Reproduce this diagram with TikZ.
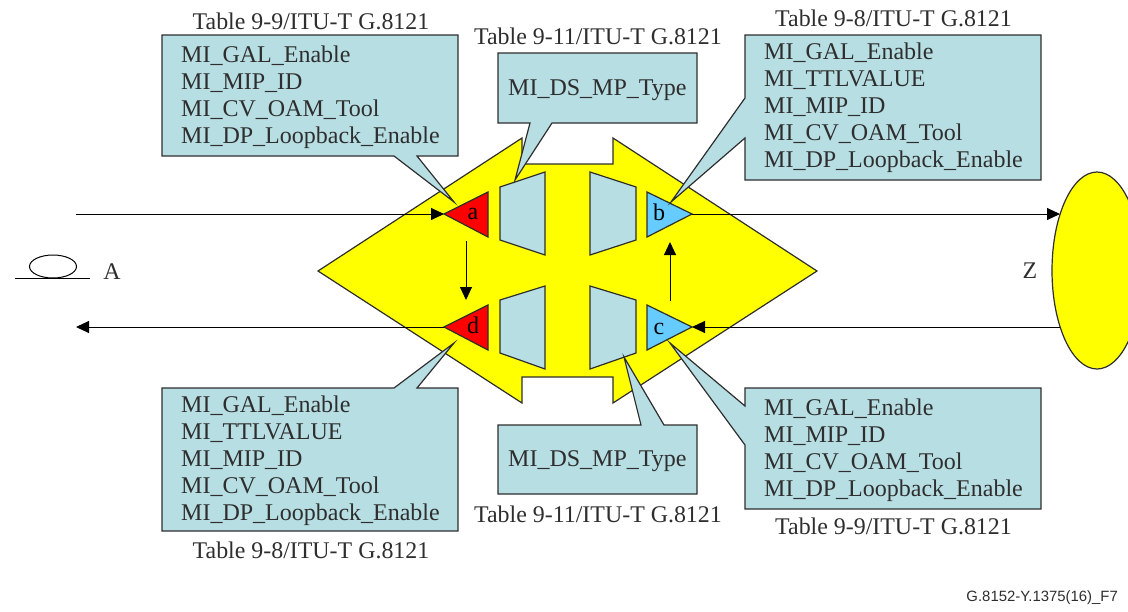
\documentclass[tikz,border=0pt]{standalone}
\usepackage{fontspec}
\setmainfont{Liberation Serif}
\newfontfamily\footfont{Liberation Sans}
\usetikzlibrary{arrows.meta,shapes.geometric}
\definecolor{boxfill}{RGB}{183,222,227}
\definecolor{skyb}{RGB}{102,204,255}
\definecolor{inkc}{RGB}{46,46,46}
\definecolor{hubyellow}{RGB}{255,255,0}
\definecolor{portred}{RGB}{255,0,0}
\tikzset{
  shapeline/.style={draw=inkc,line width=1.2pt,line join=miter},
  boxshape/.style={shapeline,fill=boxfill},
  boxtext/.style={anchor=west,align=left,inner sep=0pt,text=inkc,font=\fontsize{24}{27}\selectfont},
  tablelabel/.style={inner sep=0pt,text=inkc,font=\fontsize{23.9}{27}\selectfont},
  tritext/.style={inner sep=0pt,text=black,font=\fontsize{24}{27}\selectfont},
  flow/.style={draw=black,line width=1pt,-{Triangle[length=13pt,width=12pt]}},
  flowplain/.style={draw=black,line width=1pt},
}
\begin{document}
\begin{tikzpicture}[x=1pt,y=-1pt]
\useasboundingbox (0,0) rectangle (1128,611);
\clip (0,0) rectangle (1128,611);
% hub
\draw[shapeline,fill=hubyellow] (318,271) -- (522,138) -- (522,164) -- (613,164) -- (613,138) -- (817,271)
  -- (613,403) -- (613,377) -- (522,377) -- (522,403) -- cycle;
% far end
\node[shapeline,fill=hubyellow,ellipse,minimum width=90pt,minimum height=197pt,inner sep=0pt] (zend) at (1097,270.5) {};
% ports
\draw[shapeline,fill=portred] (444,214) coordinate (atip) -- (488,192) -- (488,237) -- cycle;
\draw[shapeline,fill=portred] (444,327) coordinate (dtip) -- (488,305) -- (488,350) -- cycle;
\draw[shapeline,fill=skyb] (692,214) coordinate (btip) -- (647,192) -- (647,237) -- cycle;
\draw[shapeline,fill=skyb] (692,327) coordinate (ctip) -- (647,305) -- (647,350) -- cycle;
\node[tritext] (alabel) at (473,214) {a};
\node[tritext] (dlabel) at (473,325) {d};
\node[tritext] (blabel) at (659,212) {b};
\node[tritext] (clabel) at (659,329) {c};
% trapezoids
\draw[boxshape] (500,187) -- (545,172) -- (545,255) -- (500,240) -- cycle;
\draw[boxshape] (590,172) -- (636,187) -- (636,240) -- (590,255) -- cycle;
\draw[boxshape] (500,300) -- (545,286) -- (545,369) -- (500,353) -- cycle;
\draw[boxshape] (590,286) -- (636,300) -- (636,353) -- (590,369) -- cycle;
% callouts
\draw[boxshape] (162,35) -- (458,35) -- (458,156) -- (417,156) -- (454,202) -- (394,156) -- (162,156) -- cycle;
\draw[boxshape] (498,53) -- (697,53) -- (697,123) -- (552,123) -- (515,180) -- (530,123) -- (498,123) -- cycle;
\draw[boxshape] (745,35) -- (1041,35) -- (1041,180) -- (745,180) -- (745,138) -- (671,202) -- (745,98) -- cycle;
\draw[boxshape] (162,388) -- (394,388) -- (454,343) -- (417,388) -- (458,388) -- (458,531) -- (162,531) -- cycle;
\draw[boxshape] (498,425) -- (641,425) -- (624,357) -- (664,425) -- (697,425) -- (697,494) -- (498,494) -- cycle;
\draw[boxshape] (745,388) -- (745,406) -- (670,343) -- (745,445) -- (745,509) -- (1041,509) -- (1041,388) -- cycle;
% box texts
\node[boxtext] (tl) at (181,97) {MI\_GAL\_Enable\\MI\_MIP\_ID\\MI\_CV\_OAM\_Tool\\MI\_DP\_Loopback\_Enable};
\node[boxtext] (tm) at (508,90) {MI\_DS\_MP\_Type};
\node[boxtext] (tr) at (764,108) {MI\_GAL\_Enable\\MI\_TTLVALUE\\MI\_MIP\_ID\\MI\_CV\_OAM\_Tool\\MI\_DP\_Loopback\_Enable};
\node[boxtext] (bl) at (181,461) {MI\_GAL\_Enable\\MI\_TTLVALUE\\MI\_MIP\_ID\\MI\_CV\_OAM\_Tool\\MI\_DP\_Loopback\_Enable};
\node[boxtext] (bm) at (508,461) {MI\_DS\_MP\_Type};
\node[boxtext] (br) at (764,450) {MI\_GAL\_Enable\\MI\_MIP\_ID\\MI\_CV\_OAM\_Tool\\MI\_DP\_Loopback\_Enable};
% table labels
\node[tablelabel] (l1) at (311,21) {Table 9-9/ITU-T G.8121};
\node[tablelabel] (l2) at (598,36) {Table 9-11/ITU-T G.8121};
\node[tablelabel] (l3) at (893.5,18) {Table 9-8/ITU-T G.8121};
\node[tablelabel] (l4) at (311,550) {Table 9-8/ITU-T G.8121};
\node[tablelabel] (l5) at (598,514) {Table 9-11/ITU-T G.8121};
\node[tablelabel] (l6) at (893.5,526) {Table 9-9/ITU-T G.8121};
% signal lines
\coordinate (inA) at (76,214);
\coordinate (outA) at (76,327);
\coordinate (inZ) at (1060,327);
\coordinate (outZ) at (1060,214);
\draw[flow] (inA) -- (atip);
\draw[flow] (btip) -- (outZ);
\draw[flow] (inZ) -- (ctip);
\draw[flow] (dtip) -- (outA);
\coordinate (ad1) at (466,241); \coordinate (ad2) at (466,300);
\coordinate (cb1) at (670,301); \coordinate (cb2) at (670,242);
\draw[flow] (ad1) -- (ad2);
\draw[flow] (cb1) -- (cb2);
% A end
\node[draw=black,line width=1pt,ellipse,minimum width=47pt,minimum height=23pt,inner sep=0pt] (aend) at (53,266.5) {};
\coordinate (aline1) at (15,278); \coordinate (aline2) at (90,278);
\draw[flowplain] (aline1) -- (aline2);
\node[tablelabel] (A) at (112,272) {A};
\node[tablelabel] (Z) at (1030,271) {Z};
\node[inner sep=0pt,anchor=east,text=inkc,font=\footfont\fontsize{14.9}{16}\selectfont] (foot) at (1118,598) {G.8152-Y.1375(16)\_F7};
\end{tikzpicture}
\end{document}
